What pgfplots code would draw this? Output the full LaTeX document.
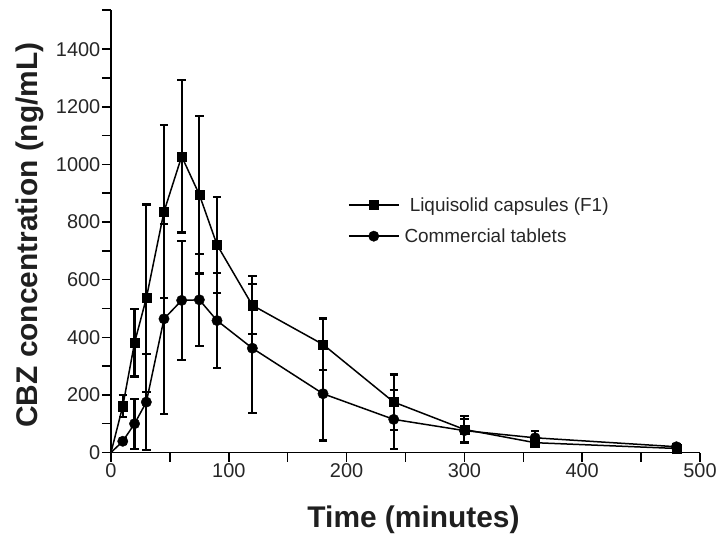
\documentclass[border=0pt]{standalone}
\usepackage{fontspec}
\setmainfont{Liberation Sans}
\usepackage{pgfplots}
\pgfplotsset{compat=1.18}
\usepackage{pgfplotstable}
\pgfplotstableread{
t y e
0 0 0
10 161 38
20 381 117
30 536 325
45 836 300
60 1028 264
75 895 274
90 721 166
120 511 101
180 375 90
240 175 96
300 80 46
360 34 12
480 14 8
}\liqui
\pgfplotstableread{
t y e
0 0 0
10 39 10
20 100 87
30 175 167
45 464 330
60 528 206
75 530 160
90 458 166
120 362 224
180 204 162
240 115 102
300 76 40
360 51 25
480 20 8
}\comm
\begin{document}
\begin{tikzpicture}
\useasboundingbox (-111bp,-89.5bp) rectangle (616bp,452.5bp);
\begin{axis}[
  scale only axis, width=589bp, height=442.5bp,
  xmin=0, xmax=500, ymin=0, ymax=1536,
  axis x line=bottom, axis y line=left,
  axis line style={-, line width=1.6bp, black},
  xtick={0,100,...,500}, minor xtick={50,150,...,450},
  ytick={0,200,...,1400}, minor ytick={100,300,...,1300},
  extra y ticks={1536}, extra y tick labels={},
  tick align=outside, major tick length=9bp, minor tick length=9bp,
  tick style={line width=1.5bp, black},
  /pgf/number format/assume math mode=true,
  /pgf/number format/1000 sep={},
  ticklabel style={font=\fontsize{20}{24}\selectfont, text=black!85},
  xticklabel style={inner sep=2bp},
  yticklabel style={inner sep=1.5bp},
  xlabel={\bfseries Time (minutes)},
  ylabel={\bfseries CBZ concentration (ng/mL)},
  label style={font=\fontsize{30}{36}\selectfont, text=black!88},
  xlabel style={at={([yshift=-74.5bp]axis description cs:0.5136,0)}, anchor=base},
  ylabel style={at={([xshift=-73bp]axis description cs:0,0.4915)}, anchor=base},
  legend style={draw=none, fill=none, font=\fontsize{19}{22}\selectfont,
    at={(rel axis cs:0.397,0.586)}, anchor=north west, cells={anchor=west},
    row sep=12bp, text=black!85,
    /tikz/every odd column/.append style={column sep=3bp}},
  legend image code/.code={\draw[mark repeat=2, mark phase=2] plot coordinates {(0bp,0bp) (25bp,0bp) (50bp,0bp)};},
  clip=false,
  every axis plot/.append style={black},
]
% connecting lines (start at the origin, no mark there)
\addplot[line width=1.5bp, no marks, forget plot] table[x=t, y=y]{\liqui};
\addplot[line width=1.5bp, no marks, forget plot] table[x=t, y=y]{\comm};
% error bars (drawn as a plot of their own, no marks)
\addplot[draw=none, line width=2.2bp, forget plot,
  skip coords between index={0}{1},
  error bars/.cd, y dir=both, y explicit, error mark=|,
  error bar style={line width=2.2bp, black},
  error mark options={line width=2.2bp, mark size=4.2bp, black}]
  table[x=t, y=y, y error=e]{\liqui};
\addplot[draw=none, line width=2.2bp, forget plot,
  skip coords between index={0}{1},
  error bars/.cd, y dir=both, y explicit, error mark=|,
  error bar style={line width=2.2bp, black},
  error mark options={line width=2.2bp, mark size=4.2bp, black}]
  table[x=t, y=y, y error=e]{\comm};
% markers
\addplot[only marks, mark=square*, mark size=4.6bp, forget plot,
  mark options={line width=0.4bp},
  skip coords between index={0}{1}]
  table[x=t, y=y]{\liqui};
\addplot[only marks, mark=*, mark size=5.2bp, forget plot,
  mark options={line width=0.4bp},
  skip coords between index={0}{1}]
  table[x=t, y=y]{\comm};
\addlegendimage{black, line width=1.5bp, mark=square*, mark size=4.6bp, mark options={line width=0.4bp}}
\addlegendentry{\ Liquisolid capsules (F1)}
\addlegendimage{black, line width=1.5bp, mark=*, mark size=5.2bp, mark options={line width=0.4bp}}
\addlegendentry{Commercial tablets}
\end{axis}
\end{tikzpicture}
\end{document}
